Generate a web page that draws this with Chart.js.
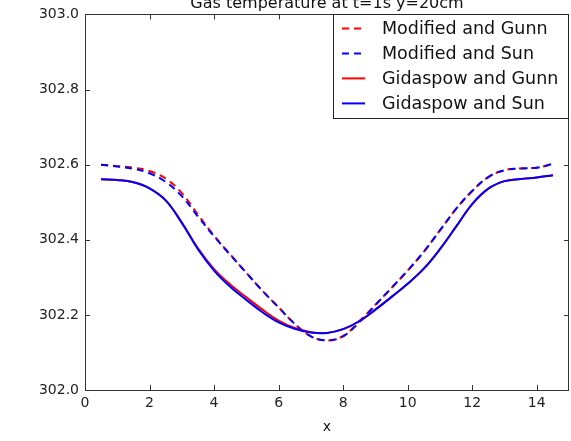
<!DOCTYPE html>
<html><head><meta charset="utf-8">
<script src="https://cdn.jsdelivr.net/npm/chart.js@4/dist/chart.umd.min.js"></script>
<style>html,body{margin:0;padding:0;background:#fff}#wrap{width:571px;height:441px}</style>
</head><body><div id="wrap"><canvas id="c" width="571" height="441"></canvas></div>
<script>
const xValues = [0.5,1.0,1.5,2.0,2.5,3.0,3.5,4.0,4.5,5.0,5.5,6.0,6.5,7.0,7.5,8.0,8.5,9.0,9.5,10.0,10.5,11.0,11.5,12.0,12.5,13.0,13.5,14.0,14.5];
const modifiedGunn = [302.600,302.596,302.592,302.583,302.563,302.524,302.467,302.411,302.361,302.312,302.264,302.220,302.176,302.143,302.132,302.144,302.183,302.227,302.272,302.318,302.368,302.425,302.482,302.530,302.567,302.585,302.590,302.592,302.602];
const modifiedSun = [302.600,302.595,302.589,302.577,302.554,302.516,302.462,302.409,302.360,302.312,302.264,302.220,302.176,302.143,302.132,302.143,302.180,302.226,302.272,302.318,302.368,302.425,302.482,302.530,302.567,302.585,302.590,302.592,302.602];
const gidaspowGunn = [302.561,302.559,302.553,302.537,302.505,302.446,302.377,302.322,302.281,302.247,302.214,302.185,302.165,302.154,302.152,302.162,302.183,302.214,302.248,302.283,302.323,302.375,302.435,302.495,302.536,302.556,302.562,302.566,302.572];
const gidaspowSun = [302.561,302.559,302.553,302.537,302.505,302.445,302.375,302.318,302.275,302.240,302.207,302.180,302.163,302.153,302.152,302.162,302.183,302.214,302.248,302.283,302.323,302.375,302.435,302.495,302.536,302.556,302.562,302.566,302.572];
const seriesLabels = ['Modified and Gunn','Modified and Sun','Gidaspow and Gunn','Gidaspow and Sun'];
const xTicks = [0,2,4,6,8,10,12,14];
const yTicks = [302.0,302.2,302.4,302.6,302.8,303.0];
const titleText = 'Gas temperature at t=1s y=20cm';
const xLabel = 'x';

const FONT = "'DejaVu Sans', sans-serif";
const pts = arr => xValues.map((x,i)=>({x:x, y:arr[i]}));
const mk = (label, arr, color, dashed, order) => ({
  label, data: pts(arr), borderColor: color, backgroundColor: color,
  borderWidth: 2, borderDash: dashed ? [7,5] : [], pointRadius: 0,
  tension: 0.4, fill: false, order
});

const framePlugin = {
  id: 'frame',
  afterDatasetsDraw(chart) {
    const {ctx, chartArea: a, scales} = chart;
    ctx.save();
    ctx.strokeStyle = '#333';
    ctx.lineWidth = 1;
    const tl = 5;
    ctx.beginPath();
    xTicks.forEach(v => {
      const px = Math.round(scales.x.getPixelForValue(v)) + 0.5;
      ctx.moveTo(px, a.bottom); ctx.lineTo(px, a.bottom - tl);
      ctx.moveTo(px, a.top); ctx.lineTo(px, a.top + tl);
    });
    yTicks.forEach(v => {
      const py = Math.round(scales.y.getPixelForValue(v)) + 0.5;
      ctx.moveTo(a.left, py); ctx.lineTo(a.left + tl, py);
      ctx.moveTo(a.right, py); ctx.lineTo(a.right - tl, py);
    });
    ctx.stroke();
    ctx.strokeRect(Math.round(a.left)+0.5, Math.round(a.top)+0.5, Math.round(a.right-a.left)-1, Math.round(a.bottom-a.top));
    // legend
    const right = a.right, top = a.top;
    const bx = right - 236, bw = 236, bh = 104;
    ctx.fillStyle = '#fff';
    ctx.fillRect(bx, top, bw, bh);
    ctx.strokeStyle = '#222';
    ctx.strokeRect(Math.round(bx)+0.5, Math.round(top)+0.5, bw-1, bh);
    ctx.font = '17.5px ' + FONT;
    ctx.textBaseline = 'middle';
    ctx.textAlign = 'left';
    chart.data.datasets.forEach((ds, i) => {
      const y = top + 14 + i * 25;
      ctx.save();
      ctx.strokeStyle = ds.borderColor;
      ctx.lineWidth = 2;
      ctx.setLineDash(ds.borderDash || []);
      ctx.beginPath();
      ctx.moveTo(bx + 9, y); ctx.lineTo(bx + 32, y);
      ctx.stroke();
      ctx.restore();
      ctx.fillStyle = '#111';
      ctx.fillText(ds.label, bx + 49, y + 1);
    });
    ctx.textAlign = 'center';
    ctx.textBaseline = 'alphabetic';
    ctx.font = '16px ' + FONT;
    ctx.fillStyle = '#111';
    ctx.fillText(titleText, (a.left + a.right) / 2, 8);
    ctx.font = '14px ' + FONT;
    ctx.textBaseline = 'middle';
    ctx.fillText(xLabel, (a.left + a.right) / 2, 427);
    ctx.restore();
  }
};

new Chart(document.getElementById('c'), {
  type: 'line',
  data: { datasets: [
    mk(seriesLabels[0], modifiedGunn, '#ff0000', true, 4),
    mk(seriesLabels[1], modifiedSun, '#0000ff', true, 3),
    mk(seriesLabels[2], gidaspowGunn, '#ff0000', false, 2),
    mk(seriesLabels[3], gidaspowSun, '#0000ff', false, 1)
  ]},
  options: {
    responsive: false, animation: false, devicePixelRatio: 1,
    layout: { padding: { top: 14, right: 2, left: 0, bottom: 0 } },
    plugins: { legend: { display: false }, tooltip: { enabled: false }, title: { display: false } },
    scales: {
      x: {
        type: 'linear', min: 0, max: 15,
        afterBuildTicks(s) { s.ticks = xTicks.map(v => ({value: v})); },
        afterFit(s) { s.height = 51; },
        grid: { display: false, drawTicks: false },
        border: { display: false },
        ticks: { padding: 5, color: '#222', font: { family: FONT, size: 14 }, maxRotation: 0, autoSkip: false,
          callback: v => String(v) }
      },
      y: {
        type: 'linear', min: 302.0, max: 303.0,
        afterBuildTicks(s) { s.ticks = yTicks.map(v => ({value: v})); },
        afterFit(s) { s.width = 85; },
        grid: { display: false, drawTicks: false },
        border: { display: false },
        ticks: { padding: 6, color: '#222', font: { family: FONT, size: 14 }, autoSkip: false,
          callback: v => Number(v).toFixed(1) }
      }
    }
  },
  plugins: [framePlugin]
});
</script></body></html>
